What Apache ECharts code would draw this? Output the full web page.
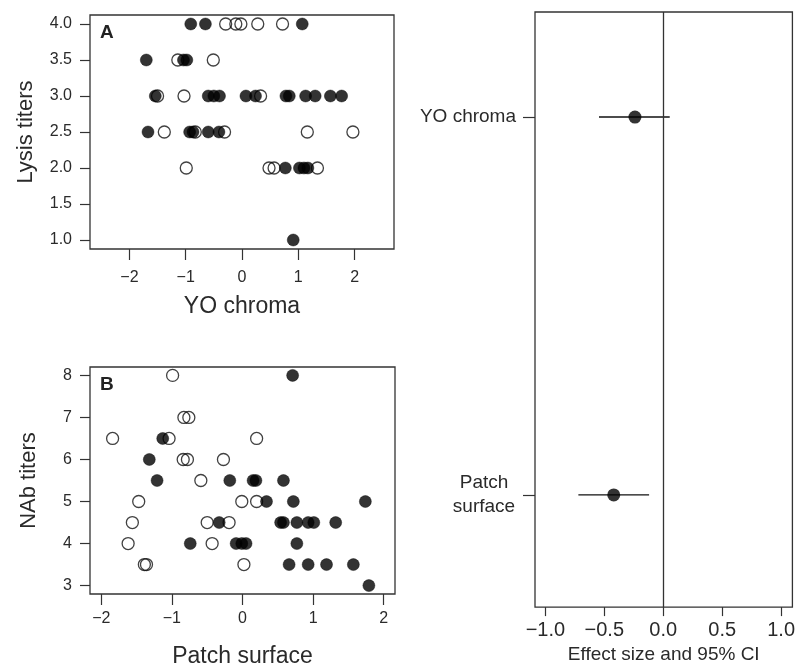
<!DOCTYPE html>
<html><head><meta charset="utf-8">
<script src="https://cdn.jsdelivr.net/npm/echarts@6/dist/echarts.min.js"></script>
<style>html,body{margin:0;padding:0;background:#fff}#c{width:798px;height:669px}</style>
</head><body><div id="c"></div>
<script>
// ---- tick labels ----
const lysisTicks = [1.0, 1.5, 2.0, 2.5, 3.0, 3.5, 4.0];
const chromaTicks = [-2, -1, 0, 1, 2];
const nabTicks = [3, 4, 5, 6, 7, 8];
const patchTicks = [-2, -1, 0, 1, 2];
const effectTicks = [-1.0, -0.5, 0.0, 0.5, 1.0];

// ---- panel A: YO chroma vs lysis titers ----
const lysisFilled = [
  [-0.91, 4.0], [-0.65, 4.0], [1.07, 4.0],
  [-1.70, 3.5], [-1.04, 3.5], [-0.98, 3.5],
  [-1.54, 3.0], [-0.60, 3.0], [-0.50, 3.0], [-0.40, 3.0], [0.07, 3.0], [0.24, 3.0],
  [0.78, 3.0], [0.84, 3.0], [1.13, 3.0], [1.30, 3.0], [1.57, 3.0], [1.77, 3.0],
  [-1.67, 2.5], [-0.93, 2.5], [-0.87, 2.5], [-0.60, 2.5], [-0.41, 2.5],
  [0.77, 2.0], [1.02, 2.0], [1.10, 2.0], [1.17, 2.0],
  [0.91, 1.0]
];
const lysisOpen = [
  [-0.29, 4.0], [-0.11, 4.0], [-0.02, 4.0], [0.28, 4.0], [0.72, 4.0],
  [-1.14, 3.5], [-0.51, 3.5],
  [-1.50, 3.0], [-1.03, 3.0], [0.33, 3.0],
  [-1.38, 2.5], [-0.83, 2.5], [-0.31, 2.5], [1.16, 2.5], [1.97, 2.5],
  [-0.99, 2.0], [0.48, 2.0], [0.57, 2.0], [1.34, 2.0]
];

// ---- panel B: patch surface vs NAb titers ----
const nabFilled = [
  [0.71, 8],
  [-1.13, 6.5],
  [-1.32, 6],
  [-1.21, 5.5], [-0.18, 5.5], [0.15, 5.5], [0.19, 5.5], [0.58, 5.5],
  [0.34, 5], [0.72, 5], [1.74, 5],
  [-0.33, 4.5], [0.54, 4.5], [0.58, 4.5], [0.77, 4.5], [0.93, 4.5], [1.01, 4.5], [1.32, 4.5],
  [-0.74, 4], [-0.09, 4], [-0.01, 4], [0.05, 4], [0.77, 4],
  [0.66, 3.5], [0.93, 3.5], [1.19, 3.5], [1.57, 3.5],
  [1.79, 3]
];
const nabOpen = [
  [-0.99, 8],
  [-0.83, 7], [-0.76, 7],
  [-1.84, 6.5], [-1.04, 6.5], [0.20, 6.5],
  [-0.84, 6], [-0.78, 6], [-0.27, 6],
  [-0.59, 5.5],
  [-1.47, 5], [-0.01, 5], [0.20, 5],
  [-1.56, 4.5], [-0.50, 4.5], [-0.19, 4.5],
  [-1.62, 4], [-0.43, 4],
  [-1.39, 3.5], [-1.36, 3.5], [0.02, 3.5]
];

// ---- forest plot ----
const effectLabels = ['Patch\nsurface', 'YO chroma'];
const effectPositions = [1, 2];
const effectEstimate = [-0.42, -0.24];
const effectLower = [-0.72, -0.545];
const effectUpper = [-0.12, 0.055];

const FONT = 'Liberation Sans, Arial, Helvetica, sans-serif';
const INK = '#000';
const TXT = '#2a2a2a';
const minus = s => String(s).replace('-', '\u2212');

function xAx(grid, min, max, ticks, name, gap, fmt, fs, nfs, tl, margin) {
  return {
    type: 'value', gridIndex: grid, min: min, max: max,
    splitLine: { show: false }, axisLine: { show: false, onZero: false },
    axisTick: { show: true, customValues: ticks, length: tl, lineStyle: { color: '#333', width: 1.2 } },
    axisLabel: { customValues: ticks, formatter: fmt, fontSize: fs, fontFamily: FONT, color: TXT, margin: margin },
    name: name, nameLocation: 'middle', nameGap: gap,
    nameTextStyle: { fontSize: nfs, fontFamily: FONT, color: TXT }
  };
}
function yAx(grid, min, max, ticks, name, gap, fmt, fs, nfs, tl, margin) {
  return {
    type: 'value', gridIndex: grid, min: min, max: max,
    splitLine: { show: false }, axisLine: { show: false, onZero: false },
    axisTick: { show: true, customValues: ticks, length: tl, lineStyle: { color: '#333', width: 1.2 } },
    axisLabel: {
      customValues: ticks, formatter: fmt, fontSize: fs, fontFamily: FONT, color: TXT, margin: margin,
      rich: { c: { width: 64, align: 'center', fontSize: fs, lineHeight: 24, fontFamily: FONT, color: TXT } }
    },
    name: name, nameLocation: 'middle', nameGap: gap,
    nameTextStyle: { fontSize: nfs, fontFamily: FONT, color: TXT }
  };
}
function effectLabel(v) {
  const s = effectLabels[effectPositions.indexOf(Math.round(v))];
  return s.indexOf('\n') >= 0 ? s.split('\n').map(t => '{c|' + t + '}').join('\n') : s;
}

const openStyle = { color: 'rgba(0,0,0,0)', borderColor: '#111', borderWidth: 1.3 };
const fillStyle = { color: INK, borderColor: INK, borderWidth: 0.5 };

const chart = echarts.init(document.getElementById('c'), null, { renderer: 'canvas' });
chart.setOption({
  animation: false,
  backgroundColor: '#fff',
  grid: [
    { left: 90, top: 15, width: 304, height: 234, show: true, borderColor: '#333', borderWidth: 1.3, backgroundColor: 'transparent' },
    { left: 90, top: 367, width: 305, height: 233, show: true, borderColor: '#333', borderWidth: 1.3, backgroundColor: 'transparent' },
    { left: 535, top: 12, width: 260, height: 607, show: true, borderColor: '#333', borderWidth: 1.3, backgroundColor: 'transparent' }
  ],
  xAxis: [
    xAx(0, -2.7, 2.7, chromaTicks, 'YO chroma', 46, v => minus(v), 16, 23, 11, 21),
    xAx(1, -2.16, 2.16, patchTicks, 'Patch surface', 51, v => minus(v), 16, 23, 11, 17),
    xAx(2, -1.088, 1.096, effectTicks, 'Effect size and 95% CI', 36, v => minus(v.toFixed(1)), 20, 19, 9, 13)
  ],
  yAxis: [
    yAx(0, 0.875, 4.125, lysisTicks, 'Lysis titers', 53, v => v.toFixed(1), 16, 22, 10, 18),
    yAx(1, 2.8, 8.2, nabTicks, 'NAb titers', 50, v => String(v), 16, 22, 10, 18),
    yAx(2, 0.703, 2.278, effectPositions, '', 0, effectLabel, 19, 14, 12, 19)
  ],
  graphic: [
    { type: 'text', left: 100, top: 23, style: { text: 'A', font: 'bold 19px ' + FONT, fill: '#222' } },
    { type: 'text', left: 100, top: 375, style: { text: 'B', font: 'bold 19px ' + FONT, fill: '#222' } }
  ],
  series: [
    { type: 'scatter', xAxisIndex: 0, yAxisIndex: 0, data: lysisOpen, symbolSize: 12, itemStyle: openStyle, z: 2 },
    { type: 'scatter', xAxisIndex: 0, yAxisIndex: 0, data: lysisFilled, symbolSize: 12, itemStyle: fillStyle, z: 3 },
    { type: 'scatter', xAxisIndex: 1, yAxisIndex: 1, data: nabOpen, symbolSize: 12, itemStyle: openStyle, z: 2 },
    { type: 'scatter', xAxisIndex: 1, yAxisIndex: 1, data: nabFilled, symbolSize: 12, itemStyle: fillStyle, z: 3 },
    {
      type: 'custom', xAxisIndex: 2, yAxisIndex: 2,
      data: effectLower.map((lo, i) => [lo, effectUpper[i], effectPositions[i]]),
      encode: { x: [0, 1], y: 2 },
      renderItem: (params, api) => {
        const a = api.coord([api.value(0), api.value(2)]);
        const b = api.coord([api.value(1), api.value(2)]);
        return { type: 'line', shape: { x1: a[0], y1: a[1], x2: b[0], y2: b[1] }, style: { stroke: '#111', lineWidth: 1.4 } };
      },
      z: 2
    },
    {
      type: 'scatter', xAxisIndex: 2, yAxisIndex: 2,
      data: effectEstimate.map((e, i) => [e, effectPositions[i]]),
      symbolSize: 13, itemStyle: { color: INK }, z: 3,
      markLine: {
        silent: true, symbol: 'none', label: { show: false },
        lineStyle: { color: '#333', type: 'solid', width: 1.3 },
        data: [{ xAxis: 0 }]
      }
    }
  ]
});
</script>
</body></html>
